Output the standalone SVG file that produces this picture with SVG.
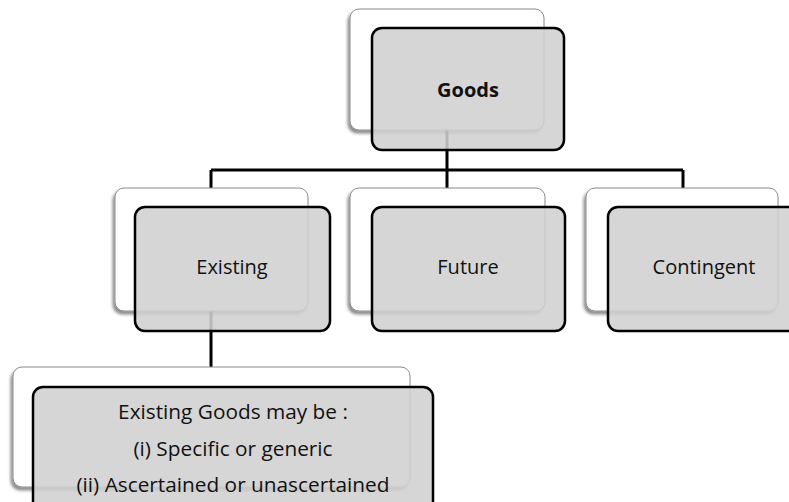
<svg xmlns="http://www.w3.org/2000/svg" width="789" height="502" viewBox="0 0 789 502">
<defs>
<filter id="sh" x="-10%" y="-10%" width="120%" height="130%">
<feDropShadow dx="-2" dy="3" stdDeviation="1.5" flood-color="#000" flood-opacity="0.45"/>
</filter>
</defs>
<style>
.back{fill:#fff;stroke:#8a8a8a;stroke-width:1;filter:url(#sh)}
.front{fill:#d0d0d0;fill-opacity:0.88;stroke:#000;stroke-width:2.5}
.t{font-family:"Open Sans","Liberation Sans",sans-serif;font-size:20px;fill:#111;text-anchor:middle}
.s{font-size:20.8px}
.b{font-weight:bold}
.c{fill:none;stroke:#000;stroke-width:3}
</style>
<rect width="789" height="502" fill="#fff"/>
<g id="connectors">
<path class="c" d="M447,70 V170 M211,170 H683 M211,170 V250 M447,170 V250 M683,170 V250 M211,250 V367"/>
</g>
<g id="goods">
<rect class="back" x="350" y="9" width="194" height="121" rx="9"/>
<rect class="front" x="372" y="28" width="192" height="122" rx="10"/>
<text class="t b" x="468" y="97">Goods</text>
</g>
<g id="existing">
<rect class="back" x="115" y="188" width="193" height="123" rx="9"/>
<rect class="front" x="135" y="207" width="195" height="124" rx="10"/>
<text class="t" x="232" y="274">Existing</text>
</g>
<g id="future">
<rect class="back" x="350" y="188" width="195" height="123" rx="9"/>
<rect class="front" x="372" y="207" width="193" height="124" rx="10"/>
<text class="t" x="468" y="274">Future</text>
</g>
<g id="contingent">
<rect class="back" x="586" y="188" width="192" height="123" rx="9"/>
<rect class="front" x="608" y="207" width="193" height="124" rx="10"/>
<text class="t" x="704" y="274">Contingent</text>
</g>
<g id="existing-goods">
<rect class="back" x="13" y="367" width="397" height="120" rx="9"/>
<rect class="front" x="33" y="387" width="400" height="125" rx="10"/>
<text class="t s" x="233" y="419">Existing Goods may be :</text>
<text class="t s" x="233" y="456">(i) Specific or generic</text>
<text class="t s" x="233" y="492">(ii) Ascertained or unascertained</text>
</g>
</svg>
